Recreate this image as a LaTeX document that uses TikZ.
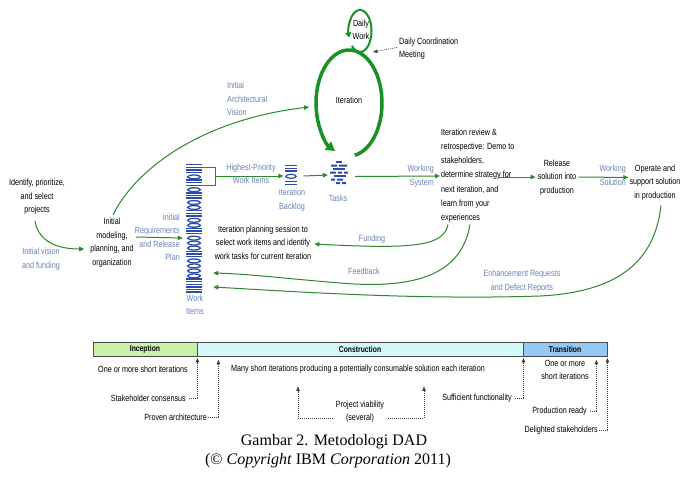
\documentclass[tikz,border=0pt]{standalone}
\usepackage{fontspec}
\setmainfont{Liberation Sans}[FakeStretch=0.8]
\newfontfamily\capfont{Liberation Serif}
\usetikzlibrary{arrows.meta,calc,shapes.geometric}
\definecolor{agreen}{RGB}{45,135,45}
\definecolor{igreen}{RGB}{25,145,35}
\definecolor{lblue}{RGB}{105,130,180}
\definecolor{wiblue}{RGB}{45,75,170}
\definecolor{inccol}{RGB}{200,242,170}
\definecolor{concol}{RGB}{210,250,250}
\definecolor{tracol}{RGB}{150,200,245}
\newcommand\dfs{\fontsize{9}{13.5}\selectfont}
\begin{document}
\begin{tikzpicture}[x=1pt,y=-1pt,
  txt/.style={font=\dfs, inner sep=0pt, align=center},
  btxt/.style={txt, text=lblue},
  flow/.style={draw=agreen, line width=1pt, -{Triangle[length=5pt,width=4.5pt]}},
  mile/.style={draw=black!75, line width=0.6pt, dash pattern=on 1pt off 1pt, -{Triangle[length=4.5pt,width=3.5pt]}},
  phase/.style={draw=black!70, line width=0.8pt, inner sep=0pt, minimum height=14pt, font=\fontsize{8.5}{10}\selectfont\bfseries},
  icon/.style={inner sep=0pt}]
\useasboundingbox (0,0) rectangle (680,491);
\fill[white] (0,0) rectangle (680,491);

% ---- iteration loops
\coordinate (ic) at (349,103);
\coordinate (dc) at (360,31);
\node[txt] (iter) at (349,100) {Iteration};
\node[txt] (daily) at (361,30) {Daily\\Work};
\draw[igreen, line width=3.5pt, -{Triangle[length=9pt,width=10pt]}]
  ($(ic)+(80:33 and 53)$) arc[start angle=80, end angle=-245, x radius=33, y radius=53];
\draw[igreen, line width=2pt, -{Triangle[length=5pt,width=6pt]}]
  ($(dc)+(135:11.5 and 21)$) arc[start angle=135, end angle=-198, x radius=11.5, y radius=21];
\node[txt, anchor=west, align=left] (dcm) at (399,48.5) {Daily Coordination\\Meeting};
\draw[mile] ($(dcm.west)+(-2,-1)$) -- ($(dc)+(13,21)$);

% ---- left side
\node[txt] (proj) at (37,197) {Identify, prioritize,\\and select\\projects};
\node[btxt] (vis) at (41,259) {Initial vision\\and funding};
\node[txt] (mod) at (112,242.5) {Initial\\modeling,\\planning, and\\organization};
\node[btxt, anchor=west, align=left] (arch) at (227,99) {Initial\\Architectural\\Vision};
\node[btxt, anchor=east, align=right] (req) at (180,237.5) {Initial\\Requirements\\and Release\\Plan};
\draw[flow] ($(proj.south)+(-2,6)$) .. controls (38,240) and (55,249) .. ($(mod.west)+(-6,6.5)$);
\draw[flow] ($(mod.north)+(1,-3)$) .. controls (135,170) and (200,120) .. ($(ic)+(-40,4)$);

% ---- work items stack
\node[icon, minimum width=16pt, minimum height=124pt] (wi) at (194,226) {};
\def\wy{164}
\foreach \t in {B,B,B,B,O,B,B,B,O,B,B,B,O,O,B,B,B,O,O,B,B,B,O,O,O,B,B,B,O,O,O,O,B,B,B,B,B,B}{
  \if\t B
    \fill[wiblue] (186,\wy) rectangle (202,\wy+1.4);
    \pgfmathsetmacro\ny{\wy+2.6}\xdef\wy{\ny}
  \else
    \draw[wiblue, line width=1.3pt] (194,\wy+2.5) ellipse [x radius=6.4, y radius=1.9];
    \pgfmathsetmacro\ny{\wy+5}\xdef\wy{\ny}
  \fi
}
\node[btxt] (wil) at (195,305) {Work\\Items};
\draw[flow] ($(mod.east)+(2,-5.5)$) -- ($(wi.west)+(-3,12)$);

% ---- bracket, backlog, tasks
\node[icon, minimum width=13pt, minimum height=22pt] (backlog) at (291,175) {};
\foreach \yy in {165,167.6,170.2,181,183.6}{\fill[wiblue] (285,\yy) rectangle (297,\yy+1.4);}
\draw[wiblue, line width=1.2pt] (291,176.3) ellipse [x radius=5.2, y radius=2];
\node[btxt] (bll) at (292,200) {Iteration\\Backlog};
\draw[agreen, line width=1pt] (wi.east |- 0,167) -- (215,167) -- (215,185) -- (wi.east |- 0,185);
\coordinate (br) at (215,176);
\draw[flow] (br) -- ($(backlog.west)+(-1,1)$);
\node[btxt] (hp) at (251,174) {Highest-Priority\\Work Items};

\node[icon, minimum width=20pt, minimum height=26pt] (tasks) at (339,173) {};
\fill[wiblue] (336,161) rectangle ++(6,2);
\fill[wiblue] (331,164.5) rectangle ++(6,2) (339,164.5) rectangle ++(8,2);
\fill[wiblue] (333,168) rectangle ++(12,2);
\fill[wiblue] (330,171.5) rectangle ++(6,2) (338,171.5) rectangle ++(4,2) (344,171.5) rectangle ++(4,2);
\fill[wiblue] (334,175) rectangle ++(12,2);
\fill[wiblue] (331,178.5) rectangle ++(4,2) (337,178.5) rectangle ++(6,2);
\fill[wiblue] (336,182) rectangle ++(4,2) (342,182) rectangle ++(4,2);
\node[btxt] (tal) at (338,198) {Tasks};
\draw[flow] ($(backlog.east)+(6,1)$) -- ($(tasks.west)+(-1,2)$);

% ---- right side
\node[txt, anchor=west, align=left, font=\fontsize{9}{14.2}\selectfont] (rev) at (441,175.5)
  {Iteration review \&\\retrospective: Demo to\\stakeholders,\\determine strategy for\\next iteration, and\\learn from your\\experiences};
\node[txt] (rel) at (557,177.5) {Release\\solution into\\production};
\node[txt] (ops) at (655,182.5) {Operate and\\support solution\\in production};
\node[btxt, anchor=east, align=right] (ws) at (434,176) {Working\\System};
\node[btxt, anchor=east, align=right] (wsol) at (626,175.5) {Working\\Solution};
\draw[flow] ($(tasks.east)+(6,3.5)$) -- ($(rev.west)+(-1,0.5)$);
\draw[flow] ($(rev.east)+(-16,1.5)$) -- ($(rel.west)+(-2,-0.5)$);
\draw[flow] ($(rel.east)+(2,-0.5)$) -- ($(ops.west)+(-1,-5)$);

% ---- planning & feedback
\node[txt] (plan) at (263,242.5) {Iteration planning session to\\select work items and identify\\work tasks for current iteration};
\draw[flow] ($(rev.south west)+(7,2)$) .. controls (444,247) and (410,249) .. ($(plan.east)+(3,1.5)$);
\node[btxt] (fund) at (372,239) {Funding};
\draw[flow] ($(rev.south west)+(29,2)$) .. controls (462,272) and (420,290) .. (340,283)
  .. controls (290,279) and (250,274) .. ($(wi.east)+(11,47)$);
\node[btxt] (fb) at (364,271) {Feedback};
\draw[flow] ($(ops.south)+(6,5)$) .. controls (655,260) and (620,292) .. (540,296)
  .. controls (420,300) and (300,292) .. ($(wi.east)+(11,61)$);
\node[btxt] (enh) at (522,281) {Enhancement Requests\\and Defect Reports};

% ---- phase bar
\node[phase, fill=inccol, minimum width=104pt] (inc) at (145,349.5) {Inception};
\node[phase, fill=concol, minimum width=326pt] (con) at (360,349.5) {Construction};
\node[phase, fill=tracol, minimum width=84pt] (tra) at (565,349.5) {Transition};

\node[txt] (inc1) at (143,369) {One or more short iterations};
\node[txt, anchor=east] (stk) at (186,398) {Stakeholder consensus};
\draw[mile] ($(stk.east)+(3,0)$) -| ($(inc.south east)+(0,1)$);
\node[txt, anchor=east] (prv) at (207,417) {Proven architecture};
\draw[mile] ($(prv.east)+(1,0)$) -| ($(inc.south east)+(21,3)$);
\node[txt] (con1) at (358,369) {Many short iterations producing a potentially consumable solution each iteration};
\node[txt] (via) at (360,411.5) {Project viability\\(several)};
\draw[mile] ($(via.west)+(-3,6.5)$) -| ($(con1.south)+(-60,13)$);
\draw[mile] ($(via.east)+(4,6.5)$) -| ($(con1.south)+(66,13)$);
\node[txt, anchor=east] (suf) at (512,398) {Sufficient functionality};
\draw[mile] ($(suf.east)+(3,0)$) -| ($(con.south east)+(0,1)$);
\node[txt] (tra1) at (565,370) {One or more\\short iterations};
\node[txt, anchor=east] (prd) at (587,411) {Production ready};
\draw[mile] ($(prd.east)+(3,0)$) -| ($(tra.south east)+(-11,3)$);
\node[txt, anchor=east] (del) at (598,430) {Delighted stakeholders};
\draw[mile] ($(del.east)+(1,0)$) -| ($(tra.south east)+(0,1)$);

% ---- caption
\node[font=\capfont\fontsize{16}{19}\selectfont, inner sep=0pt, anchor=base] (cap1) at (334,445) {Gambar 2. Metodologi DAD};
\node[font=\capfont\fontsize{16}{19}\selectfont, inner sep=0pt, anchor=base] (cap2) at (328,464) {(© \textit{Copyright} IBM \textit{Corporation} 2011)};
\end{tikzpicture}
\end{document}
